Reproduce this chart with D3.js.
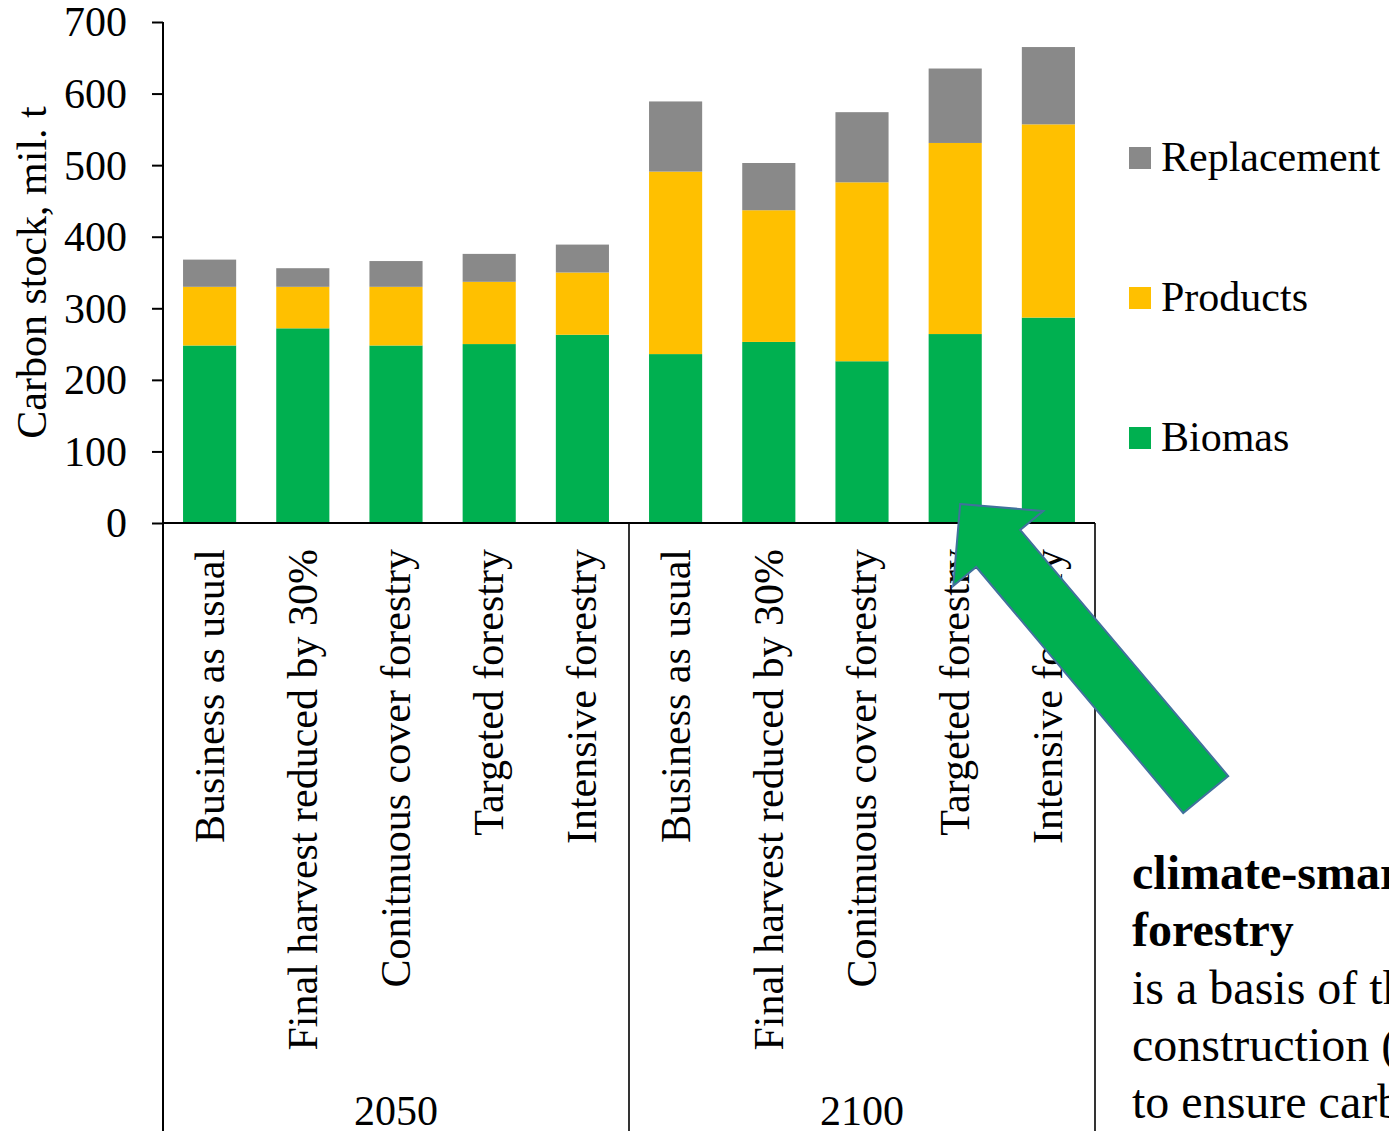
<!DOCTYPE html>
<html>
<head>
<meta charset="utf-8">
<script src="https://cdn.jsdelivr.net/npm/d3@7"></script>
<style>
  html, body { margin: 0; padding: 0; background: #fff; }
  svg { display: block; }
  text { font-family: "Liberation Serif", "Times New Roman", serif; fill: #000; }
</style>
</head>
<body>
<svg id="chart" width="1389" height="1131"></svg>
<script>
// Scenario names (inner axis level) and the periods they are grouped by
const categories = ["Business as usual", "Final harvest reduced by 30%", "Conitnuous cover forestry", "Targeted forestry", "Intensive forestry"];
const periods = ["2050", "2100"];

// Carbon stock components, mil. t, in order: 2050 scenarios then 2100 scenarios
const biomas      = [248, 272, 248, 250, 263, 236, 253, 226, 264, 287];
const products    = [ 82,  58,  82,  87,  87, 255, 184, 250, 267, 270];
const replacement = [ 38,  26,  36,  39,  39,  98,  66,  98, 104, 108];

const seriesNames = ["Biomas", "Products", "Replacement"];
const seriesColors = ["#00B050", "#FFC000", "#898989"];
const yTicks = [0, 100, 200, 300, 400, 500, 600, 700];

const annotationBold = ["climate-smart", "forestry"];
const annotationText = ["is a basis of the", "construction (", "to ensure carbon"];

// ---- layout ----
const W = 1389, H = 1131;
const plotLeft = 163, plotRight = 1095, plotTop = 22, plotBottom = 523;
const FS = 42;      // chart text size
const NOTE_FS = 48; // side note text size

const svg = d3.select("#chart");

const rows = biomas.map((b, i) => ({
  key: i,
  period: periods[Math.floor(i / categories.length)],
  category: categories[i % categories.length],
  Biomas: b, Products: products[i], Replacement: replacement[i]
}));

const x = d3.scaleBand()
  .domain(rows.map(d => d.key))
  .range([plotLeft, plotRight])
  .paddingInner(0.43)
  .paddingOuter(0.215);

const y = d3.scaleLinear().domain([0, 700]).range([plotBottom, plotTop]);

const stacked = d3.stack().keys(seriesNames)(rows);
const color = d3.scaleOrdinal().domain(seriesNames).range(seriesColors);

// ---- bars ----
svg.append("g").selectAll("g")
  .data(stacked)
  .join("g")
    .attr("fill", s => color(s.key))
  .selectAll("rect")
  .data(s => s)
  .join("rect")
    .attr("x", d => x(d.data.key))
    .attr("width", x.bandwidth())
    .attr("y", d => y(d[1]))
    .attr("height", d => y(d[0]) - y(d[1]));

// ---- y axis ----
const yAxis = svg.append("g")
  .attr("transform", `translate(${plotLeft},0)`)
  .call(d3.axisLeft(y).tickValues(yTicks).tickSize(11).tickSizeOuter(0).tickPadding(25));
yAxis.select(".domain").remove();
yAxis.selectAll(".tick line").attr("stroke", "#000").attr("stroke-width", 2);
yAxis.selectAll(".tick text")
  .style("font-family", '"Liberation Serif", "Times New Roman", serif')
  .style("font-size", FS + "px")
  .attr("fill", "#000")
  .attr("dy", "0.33em");

const axisColor = "#000";
// vertical axis line running down into the category box
svg.append("line")
  .attr("x1", plotLeft).attr("x2", plotLeft)
  .attr("y1", y(700)).attr("y2", H)
  .attr("stroke", axisColor).attr("stroke-width", 2);
// horizontal category axis
svg.append("line")
  .attr("x1", plotLeft).attr("x2", plotRight)
  .attr("y1", y(0)).attr("y2", y(0))
  .attr("stroke", axisColor).attr("stroke-width", 2);

// group separators for the period level
const step = x.step();
const groupEdges = periods.map((p, gi) => plotLeft + (gi + 1) * categories.length * step);
svg.append("g").selectAll("line")
  .data(groupEdges)
  .join("line")
    .attr("x1", d => d).attr("x2", d => d)
    .attr("y1", y(0)).attr("y2", H)
    .attr("stroke", axisColor).attr("stroke-width", 1.6);

// rotated scenario labels
svg.append("g").selectAll("text")
  .data(rows)
  .join("text")
    .attr("transform", d => `translate(${x(d.key) + x.bandwidth() / 2 + 14},${y(0) + 26}) rotate(-90)`)
    .attr("text-anchor", "end")
    .style("font-size", FS + "px")
    .text(d => d.category);

// period labels
svg.append("g").selectAll("text")
  .data(periods)
  .join("text")
    .attr("x", (p, gi) => plotLeft + (gi + 0.5) * categories.length * step)
    .attr("y", 1125)
    .attr("text-anchor", "middle")
    .style("font-size", FS + "px")
    .text(p => p);

// y axis title
svg.append("text")
  .attr("transform", `translate(46,${(plotTop + plotBottom) / 2}) rotate(-90)`)
  .attr("text-anchor", "middle")
  .style("font-size", FS + "px")
  .text("Carbon stock, mil. t");

// ---- legend (Replacement on top) ----
const legendItems = seriesNames.slice().reverse();
const legend = svg.append("g").selectAll("g")
  .data(legendItems)
  .join("g")
    .attr("transform", (d, i) => `translate(1129,${171 + i * 140})`);
legend.append("rect")
  .attr("x", 0).attr("y", -24)
  .attr("width", 22).attr("height", 22)
  .attr("fill", d => color(d));
legend.append("text")
  .attr("x", 32).attr("y", 0)
  .style("font-size", FS + "px")
  .text(d => d);

// ---- arrow pointing at the targeted forestry bar of 2100 ----
const targetKey = categories.length + categories.indexOf("Targeted forestry");
const tipX = x(targetKey) + x.bandwidth() / 2 + 5;
const tipY = y(0) - 19;
const arrowShape = [[0, 0], [83, 7], [60, 26], [268, 272], [223, 309], [16, 63], [-7, 82]];
svg.append("polygon")
  .attr("points", arrowShape.map(([dx, dy]) => `${tipX + dx},${tipY + dy}`).join(" "))
  .attr("fill", "#00B050")
  .attr("stroke", "#41719C")
  .attr("stroke-width", 2)
  .attr("stroke-linejoin", "miter");

// ---- side note ----
const noteLines = annotationBold.map(t => ({ t, bold: true }))
  .concat(annotationText.map(t => ({ t, bold: false })));
svg.append("g").attr("transform", "translate(1132,0)")
  .selectAll("text")
  .data(noteLines)
  .join("text")
    .attr("x", 0)
    .attr("y", (d, i) => 889 + i * 57.3)
    .style("font-size", NOTE_FS + "px")
    .style("font-weight", d => d.bold ? "bold" : "normal")
    .text(d => d.t);
</script>
</body>
</html>
